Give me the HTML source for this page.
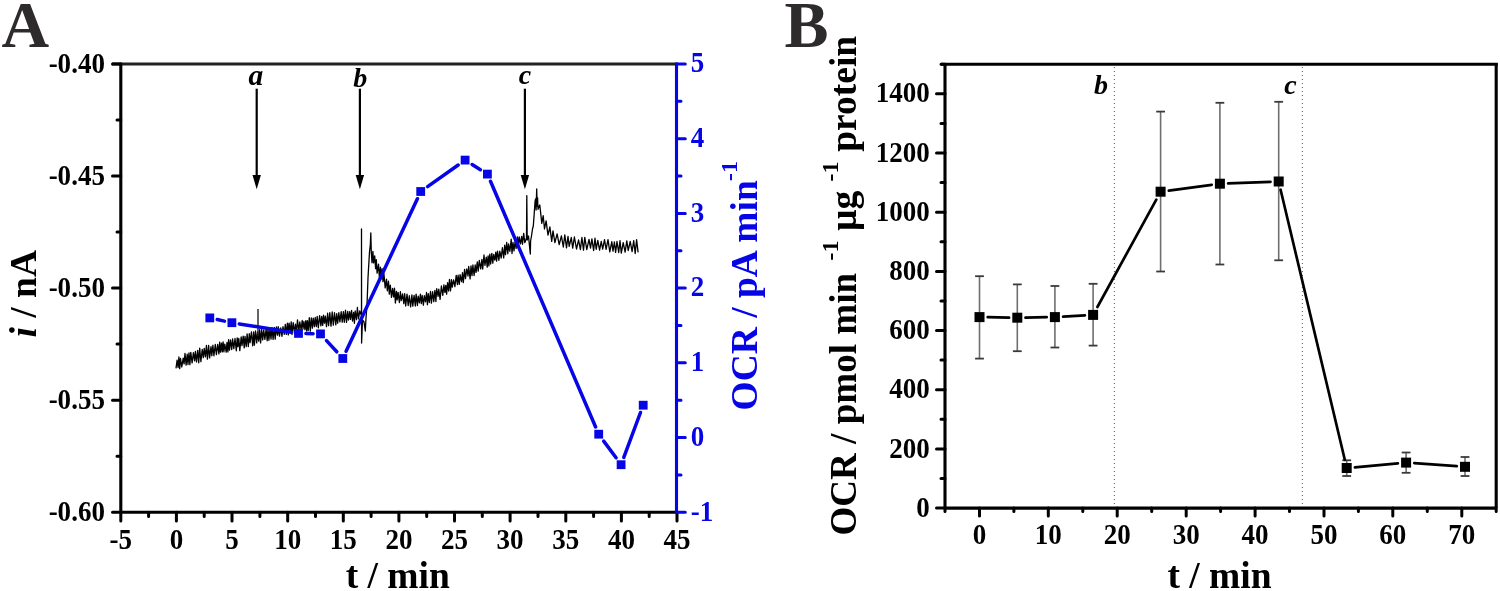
<!DOCTYPE html>
<html><head><meta charset="utf-8"><style>
html,body{margin:0;padding:0;background:#fff;}
body{width:1500px;height:591px;overflow:hidden;font-family:"Liberation Serif",serif;}
svg{display:block;filter:blur(0.3px);}
</style></head><body>
<svg width="1500" height="591" viewBox="0 0 1500 591">
<rect width="1500" height="591" fill="#fff"/>
<polyline fill="none" stroke="#000" stroke-width="1.3" stroke-linejoin="round" points="176.0,368.3 177.1,360.1 178.1,367.5 178.9,357.0 179.7,368.7 180.5,358.3 181.8,367.0 183.2,358.2 184.1,363.9 185.0,353.3 186.1,365.2 187.2,354.2 188.0,364.5 189.0,352.8 189.9,364.7 190.8,352.3 192.1,362.8 193.4,352.6 194.6,360.8 195.4,351.3 196.5,362.0 197.7,350.3 198.7,362.8 199.7,348.1 200.9,361.7 202.2,349.4 203.3,357.7 204.2,348.4 205.4,356.8 206.4,345.5 207.4,359.1 208.6,345.4 209.6,357.9 211.0,346.6 211.8,355.8 212.9,345.2 213.9,355.8 215.3,344.5 216.4,354.6 217.7,344.4 218.9,353.9 219.7,342.1 220.5,352.2 221.5,343.2 222.3,351.9 223.1,341.8 223.9,351.8 224.8,344.2 226.2,352.1 227.0,342.3 227.9,351.9 228.6,339.7 229.5,350.2 230.5,339.9 231.7,349.5 232.6,339.0 233.8,348.7 235.0,338.5 236.3,350.8 237.2,337.9 237.9,346.6 238.8,338.4 239.8,350.7 241.2,336.8 242.0,345.7 243.2,336.1 244.2,347.9 245.0,336.4 246.2,346.7 247.1,333.9 248.3,346.5 249.3,333.7 250.1,342.7 251.4,332.0 252.7,345.8 253.6,332.0 254.4,345.2 255.5,331.0 256.7,342.9 257.6,331.8 258.7,341.1 259.6,329.7 260.6,342.9 261.6,329.5 262.7,339.9 263.7,329.9 264.9,339.4 266.1,329.0 267.2,340.8 268.0,328.3 268.9,340.3 270.0,328.9 271.0,339.2 272.0,327.4 273.1,339.4 274.3,327.5 275.2,339.1 276.4,327.0 277.5,335.2 278.2,326.7 279.5,336.2 280.7,327.9 282.0,336.3 283.0,326.6 284.3,334.3 285.3,324.4 286.3,334.4 287.4,323.1 288.3,334.9 289.1,323.1 290.4,332.2 291.2,321.8 292.0,334.5 293.2,322.6 294.6,333.8 295.4,324.1 296.4,332.4 297.5,319.8 298.8,331.6 299.8,321.9 301.1,329.8 302.2,320.5 303.0,328.9 303.9,321.5 304.9,329.7 305.8,320.6 306.6,331.0 307.4,320.6 308.2,330.6 309.3,317.7 310.3,331.1 311.3,318.0 312.4,328.1 313.2,318.1 314.4,326.7 315.2,317.5 316.3,326.5 317.2,316.3 318.3,327.8 319.6,315.7 320.9,325.8 321.7,316.3 322.7,325.4 323.5,315.2 324.5,323.2 325.4,316.2 326.5,326.6 327.6,313.2 328.6,325.6 329.8,312.6 331.0,326.1 332.2,312.0 333.3,325.1 334.5,312.7 335.8,324.9 336.7,313.6 337.7,323.2 338.8,312.7 339.9,321.8 341.2,311.6 342.2,322.1 343.4,311.6 344.3,322.3 345.5,310.2 346.5,322.4 347.7,311.3 348.5,320.0 349.7,311.7 350.5,319.4 351.6,310.5 352.5,321.0 353.6,312.5 354.4,323.3 355.2,311.0 356.5,319.6 357.4,307.5 358.5,318.8 359.8,310.9 361.5,316.0 361.5,229.0 361.6,343.0 362.5,320.0 364.0,322.0 365.3,331.0 366.0,318.0 367.0,305.0 368.0,278.0 369.5,252.0 370.3,245.0 370.8,233.0 371.3,252.0 372.0,262.8 372.9,251.4 373.6,262.9 374.7,255.8 375.6,268.7 376.3,259.7 377.1,273.2 378.5,264.1 379.4,277.7 380.4,267.2 381.2,278.9 382.1,268.7 383.0,281.7 383.9,273.6 385.2,287.9 386.5,279.1 387.3,290.8 388.5,281.2 389.3,294.1 390.3,285.1 391.5,297.4 392.6,288.3 393.6,296.9 394.5,288.2 395.4,303.0 396.4,291.3 397.2,299.9 398.1,292.3 399.4,302.5 400.4,291.7 401.3,300.7 402.6,293.8 403.8,303.6 404.7,293.7 405.7,306.0 407.0,294.1 408.2,305.5 409.3,295.7 410.6,306.9 411.9,294.9 412.8,306.1 414.1,295.4 415.3,306.0 416.1,294.1 417.4,305.5 418.2,296.2 419.4,302.8 420.4,294.1 421.3,303.7 422.2,295.5 423.4,305.2 424.3,295.7 425.5,301.8 426.5,292.5 427.4,304.8 428.3,293.7 429.3,302.5 430.5,291.5 431.4,303.2 432.6,291.6 433.8,301.6 434.9,290.4 435.9,301.5 436.7,288.7 438.1,296.3 438.8,289.2 440.1,299.3 441.4,286.0 442.8,295.3 443.9,284.9 444.9,292.3 445.8,285.4 446.6,294.1 447.6,282.6 448.6,291.0 449.5,279.4 450.5,290.9 451.5,279.7 452.3,287.1 453.6,279.8 454.9,286.6 456.2,275.4 457.4,284.6 458.1,275.2 459.3,284.3 460.1,274.6 461.5,281.6 462.5,272.7 463.3,282.7 464.6,269.4 465.5,278.6 466.8,268.9 468.0,276.0 468.7,266.5 470.1,278.9 471.0,265.8 472.0,275.7 472.9,265.0 474.1,275.5 475.2,264.9 476.1,272.4 477.3,261.8 478.2,271.2 479.3,260.5 480.7,268.9 481.9,259.4 482.7,269.0 484.0,255.0 484.9,265.3 486.3,257.2 487.2,267.1 488.1,255.8 488.9,265.9 489.8,254.1 490.7,264.0 491.8,253.3 492.8,263.2 493.7,254.5 494.8,260.2 495.8,252.1 496.6,261.2 497.5,251.2 498.9,260.3 499.8,251.2 501.2,258.0 502.4,247.6 503.7,257.9 504.7,245.1 505.5,254.6 506.7,242.5 507.8,253.8 508.6,244.0 509.9,251.3 511.2,239.2 512.0,253.5 513.0,242.4 514.0,250.9 515.3,240.0 516.1,248.4 517.4,236.9 518.4,246.0 519.2,236.9 520.5,243.9 521.7,236.4 522.5,244.3 523.7,233.3 524.8,242.7 526.5,238.0 526.8,195.6 527.2,240.0 528.5,236.0 529.5,246.0 530.3,254.0 530.6,241.0 531.5,236.0 532.5,229.0 533.3,226.0 534.2,214.0 535.0,202.0 535.6,199.0 536.1,210.0 536.7,189.0 537.1,206.0 537.6,198.0 538.0,209.3 539.8,205.0 541.8,223.4 543.2,215.7 544.5,229.0 546.1,220.8 548.0,235.1 549.9,227.0 551.7,241.4 553.0,230.8 554.9,242.7 557.1,233.8 559.2,244.7 561.4,235.9 563.3,247.0 564.8,234.8 566.5,247.8 568.0,236.3 569.2,246.3 571.3,237.5 572.7,248.1 574.4,237.0 576.5,249.0 578.6,240.0 580.4,249.6 581.9,237.5 583.5,250.1 584.8,237.4 586.8,249.7 589.0,239.3 590.5,248.1 591.9,238.9 593.6,250.5 595.0,238.2 596.2,249.3 597.8,240.4 599.6,250.2 601.2,241.5 602.7,249.1 604.5,239.7 606.1,249.4 608.0,239.7 609.8,251.8 611.8,241.7 613.0,251.1 614.4,242.0 615.6,252.4 617.0,241.5 618.7,252.5 620.0,240.7 621.3,253.1 623.2,242.7 625.1,252.2 626.8,240.8 628.2,250.5 630.2,241.4 632.1,251.7 633.7,240.7 635.2,253.5 636.6,239.6 638.1,252.3"/>
<line x1="258" y1="309" x2="258" y2="336" stroke="#222" stroke-width="1.4"/>
<line x1="256.7" y1="88.7" x2="256.7" y2="178" stroke="#000" stroke-width="2.2"/>
<polygon points="252.5,175 260.9,175 256.7,189.3" fill="#000"/>
<line x1="359.9" y1="88.7" x2="359.9" y2="178" stroke="#000" stroke-width="2.2"/>
<polygon points="355.7,175 364.1,175 359.9,189.3" fill="#000"/>
<line x1="524.9" y1="88.7" x2="524.9" y2="178" stroke="#000" stroke-width="2.2"/>
<polygon points="520.7,175 529.1,175 524.9,189.3" fill="#000"/>
<line x1="217.2" y1="319.5" x2="224.5" y2="321.1" stroke="#0505e6" stroke-width="3.5" stroke-linecap="round"/>
<line x1="239.3" y1="323.9" x2="291.1" y2="332.2" stroke="#0505e6" stroke-width="3.5" stroke-linecap="round"/>
<line x1="305.9" y1="333.6" x2="313.1" y2="333.7" stroke="#0505e6" stroke-width="3.5" stroke-linecap="round"/>
<line x1="326.5" y1="340.6" x2="336.8" y2="351.8" stroke="#0505e6" stroke-width="3.5" stroke-linecap="round"/>
<line x1="346.1" y1="351.3" x2="417.4" y2="198.7" stroke="#0505e6" stroke-width="3.5" stroke-linecap="round"/>
<line x1="427.6" y1="186.6" x2="458.2" y2="165.0" stroke="#0505e6" stroke-width="3.5" stroke-linecap="round"/>
<line x1="472.1" y1="164.5" x2="480.4" y2="169.7" stroke="#0505e6" stroke-width="3.5" stroke-linecap="round"/>
<line x1="490.5" y1="181.3" x2="595.6" y2="427.0" stroke="#0505e6" stroke-width="3.5" stroke-linecap="round"/>
<line x1="603.7" y1="441.1" x2="616.1" y2="457.8" stroke="#0505e6" stroke-width="3.5" stroke-linecap="round"/>
<line x1="623.8" y1="457.4" x2="640.5" y2="412.5" stroke="#0505e6" stroke-width="3.5" stroke-linecap="round"/>
<rect x="205.4" y="313.5" width="8.8" height="8.8" fill="#0505e6"/>
<rect x="227.5" y="318.3" width="8.8" height="8.8" fill="#0505e6"/>
<rect x="294.1" y="329.0" width="8.8" height="8.8" fill="#0505e6"/>
<rect x="316.1" y="329.5" width="8.8" height="8.8" fill="#0505e6"/>
<rect x="338.4" y="354.1" width="8.8" height="8.8" fill="#0505e6"/>
<rect x="416.3" y="187.1" width="8.8" height="8.8" fill="#0505e6"/>
<rect x="460.7" y="155.7" width="8.8" height="8.8" fill="#0505e6"/>
<rect x="483.0" y="169.7" width="8.8" height="8.8" fill="#0505e6"/>
<rect x="594.3" y="429.8" width="8.8" height="8.8" fill="#0505e6"/>
<rect x="616.7" y="460.3" width="8.8" height="8.8" fill="#0505e6"/>
<rect x="638.8" y="400.8" width="8.8" height="8.8" fill="#0505e6"/>
<line x1="112" y1="64.0" x2="676.5" y2="64.0" stroke="#222" stroke-width="3"/>
<line x1="120.8" y1="62.8" x2="120.8" y2="512.2" stroke="#000" stroke-width="3.1"/>
<line x1="120.8" y1="512.2" x2="676.5" y2="512.2" stroke="#000" stroke-width="3.1"/>
<text transform="translate(104.9,73.0) scale(0.965,1.04)" font-family="Liberation Serif" font-weight="bold" font-size="28" text-anchor="end">-0.40</text>
<text transform="translate(104.9,185.1) scale(0.965,1.04)" font-family="Liberation Serif" font-weight="bold" font-size="28" text-anchor="end">-0.45</text>
<text transform="translate(104.9,297.1) scale(0.965,1.04)" font-family="Liberation Serif" font-weight="bold" font-size="28" text-anchor="end">-0.50</text>
<text transform="translate(104.9,409.2) scale(0.965,1.04)" font-family="Liberation Serif" font-weight="bold" font-size="28" text-anchor="end">-0.55</text>
<text transform="translate(104.9,521.2) scale(0.965,1.04)" font-family="Liberation Serif" font-weight="bold" font-size="28" text-anchor="end">-0.60</text>
<text transform="translate(120.8,548.9) scale(0.965,1.04)" font-family="Liberation Serif" font-weight="bold" font-size="28" text-anchor="middle">-5</text>
<text transform="translate(176.4,548.9) scale(0.965,1.04)" font-family="Liberation Serif" font-weight="bold" font-size="28" text-anchor="middle">0</text>
<text transform="translate(232.0,548.9) scale(0.965,1.04)" font-family="Liberation Serif" font-weight="bold" font-size="28" text-anchor="middle">5</text>
<text transform="translate(287.7,548.9) scale(0.965,1.04)" font-family="Liberation Serif" font-weight="bold" font-size="28" text-anchor="middle">10</text>
<text transform="translate(343.3,548.9) scale(0.965,1.04)" font-family="Liberation Serif" font-weight="bold" font-size="28" text-anchor="middle">15</text>
<text transform="translate(398.9,548.9) scale(0.965,1.04)" font-family="Liberation Serif" font-weight="bold" font-size="28" text-anchor="middle">20</text>
<text transform="translate(454.5,548.9) scale(0.965,1.04)" font-family="Liberation Serif" font-weight="bold" font-size="28" text-anchor="middle">25</text>
<text transform="translate(510.1,548.9) scale(0.965,1.04)" font-family="Liberation Serif" font-weight="bold" font-size="28" text-anchor="middle">30</text>
<text transform="translate(565.8,548.9) scale(0.965,1.04)" font-family="Liberation Serif" font-weight="bold" font-size="28" text-anchor="middle">35</text>
<text transform="translate(621.4,548.9) scale(0.965,1.04)" font-family="Liberation Serif" font-weight="bold" font-size="28" text-anchor="middle">40</text>
<text transform="translate(677.0,548.9) scale(0.965,1.04)" font-family="Liberation Serif" font-weight="bold" font-size="28" text-anchor="middle">45</text>
<path d="M112.5 64.0H120.8M117 120.0H120.8M112.5 176.1H120.8M117 232.1H120.8M112.5 288.1H120.8M117 344.1H120.8M112.5 400.2H120.8M117 456.2H120.8M112.5 512.2H120.8M120.8 512.2V521M148.6 512.2V516.5M176.4 512.2V521M204.2 512.2V516.5M232.0 512.2V521M259.9 512.2V516.5M287.7 512.2V521M315.5 512.2V516.5M343.3 512.2V521M371.1 512.2V516.5M398.9 512.2V521M426.7 512.2V516.5M454.5 512.2V521M482.3 512.2V516.5M510.1 512.2V521M538.0 512.2V516.5M565.8 512.2V521M593.6 512.2V516.5M621.4 512.2V521M649.2 512.2V516.5M677.0 512.2V521" stroke="#000" stroke-width="3" stroke-linecap="round" fill="none"/>
<line x1="676.5" y1="62.6" x2="676.5" y2="513.7" stroke="#0505e6" stroke-width="3.1"/>
<text transform="translate(690.8,72.3) scale(0.965,1.04)" font-family="Liberation Serif" font-weight="bold" font-size="28" fill="#0505e6">5</text>
<text transform="translate(690.8,147.0) scale(0.965,1.04)" font-family="Liberation Serif" font-weight="bold" font-size="28" fill="#0505e6">4</text>
<text transform="translate(690.8,221.7) scale(0.965,1.04)" font-family="Liberation Serif" font-weight="bold" font-size="28" fill="#0505e6">3</text>
<text transform="translate(690.8,296.4) scale(0.965,1.04)" font-family="Liberation Serif" font-weight="bold" font-size="28" fill="#0505e6">2</text>
<text transform="translate(690.8,371.1) scale(0.965,1.04)" font-family="Liberation Serif" font-weight="bold" font-size="28" fill="#0505e6">1</text>
<text transform="translate(690.8,445.8) scale(0.965,1.04)" font-family="Liberation Serif" font-weight="bold" font-size="28" fill="#0505e6">0</text>
<text transform="translate(690.8,520.5) scale(0.965,1.04)" font-family="Liberation Serif" font-weight="bold" font-size="28" fill="#0505e6">-1</text>
<path d="M676.5 64.0H685.3M676.5 101.3H681M676.5 138.7H685.3M676.5 176.0H681M676.5 213.4H685.3M676.5 250.8H681M676.5 288.1H685.3M676.5 325.5H681M676.5 362.8H685.3M676.5 400.2H681M676.5 437.5H685.3M676.5 474.9H681M676.5 512.2H685.3" stroke="#0505e6" stroke-width="3" stroke-linecap="round" fill="none"/>
<text x="397.8" y="588" font-family="Liberation Serif" font-weight="bold" font-size="37.5" text-anchor="middle">t / min</text>
<text transform="translate(35.6,337.5) rotate(-90)" font-family="Liberation Serif" font-weight="bold" font-size="37.5"><tspan font-style="italic">i</tspan> / nA</text>
<text transform="translate(756.6,410.5) rotate(-90)" font-family="Liberation Serif" font-weight="bold" font-size="37.5" fill="#0505e6">OCR / pA min</text>
<text transform="translate(737,181) rotate(-90)" font-family="Liberation Serif" font-weight="bold" font-size="24" fill="#0505e6">-1</text>
<text x="1.5" y="46.7" font-family="Liberation Serif" font-weight="bold" font-size="66" fill="#2e2b2c">A</text>
<line x1="1114.4" y1="67" x2="1114.4" y2="506" stroke="#666" stroke-width="1.1" stroke-dasharray="1.1 2.9"/>
<line x1="1302.4" y1="67" x2="1302.4" y2="506" stroke="#666" stroke-width="1.1" stroke-dasharray="1.1 2.9"/>
<line x1="979.5" y1="276.2" x2="979.5" y2="358.6" stroke="#6e6e6e" stroke-width="1.6"/>
<line x1="975.1" y1="276.2" x2="983.9" y2="276.2" stroke="#3a3a3a" stroke-width="1.8"/>
<line x1="975.1" y1="358.6" x2="983.9" y2="358.6" stroke="#3a3a3a" stroke-width="1.8"/>
<line x1="1017.3" y1="284.4" x2="1017.3" y2="351.2" stroke="#6e6e6e" stroke-width="1.6"/>
<line x1="1012.9" y1="284.4" x2="1021.7" y2="284.4" stroke="#3a3a3a" stroke-width="1.8"/>
<line x1="1012.9" y1="351.2" x2="1021.7" y2="351.2" stroke="#3a3a3a" stroke-width="1.8"/>
<line x1="1054.9" y1="286.0" x2="1054.9" y2="347.5" stroke="#6e6e6e" stroke-width="1.6"/>
<line x1="1050.5" y1="286.0" x2="1059.3" y2="286.0" stroke="#3a3a3a" stroke-width="1.8"/>
<line x1="1050.5" y1="347.5" x2="1059.3" y2="347.5" stroke="#3a3a3a" stroke-width="1.8"/>
<line x1="1093.1" y1="283.8" x2="1093.1" y2="345.6" stroke="#6e6e6e" stroke-width="1.6"/>
<line x1="1088.7" y1="283.8" x2="1097.5" y2="283.8" stroke="#3a3a3a" stroke-width="1.8"/>
<line x1="1088.7" y1="345.6" x2="1097.5" y2="345.6" stroke="#3a3a3a" stroke-width="1.8"/>
<line x1="1160.6" y1="111.6" x2="1160.6" y2="271.5" stroke="#6e6e6e" stroke-width="1.6"/>
<line x1="1156.2" y1="111.6" x2="1165.0" y2="111.6" stroke="#3a3a3a" stroke-width="1.8"/>
<line x1="1156.2" y1="271.5" x2="1165.0" y2="271.5" stroke="#3a3a3a" stroke-width="1.8"/>
<line x1="1219.9" y1="102.8" x2="1219.9" y2="264.5" stroke="#6e6e6e" stroke-width="1.6"/>
<line x1="1215.5" y1="102.8" x2="1224.3" y2="102.8" stroke="#3a3a3a" stroke-width="1.8"/>
<line x1="1215.5" y1="264.5" x2="1224.3" y2="264.5" stroke="#3a3a3a" stroke-width="1.8"/>
<line x1="1278.7" y1="101.8" x2="1278.7" y2="260.3" stroke="#6e6e6e" stroke-width="1.6"/>
<line x1="1274.3" y1="101.8" x2="1283.1" y2="101.8" stroke="#3a3a3a" stroke-width="1.8"/>
<line x1="1274.3" y1="260.3" x2="1283.1" y2="260.3" stroke="#3a3a3a" stroke-width="1.8"/>
<line x1="1346.7" y1="460.3" x2="1346.7" y2="476.0" stroke="#6e6e6e" stroke-width="1.6"/>
<line x1="1342.3" y1="460.3" x2="1351.1" y2="460.3" stroke="#3a3a3a" stroke-width="1.8"/>
<line x1="1342.3" y1="476.0" x2="1351.1" y2="476.0" stroke="#3a3a3a" stroke-width="1.8"/>
<line x1="1406.1" y1="452.5" x2="1406.1" y2="472.8" stroke="#6e6e6e" stroke-width="1.6"/>
<line x1="1401.7" y1="452.5" x2="1410.5" y2="452.5" stroke="#3a3a3a" stroke-width="1.8"/>
<line x1="1401.7" y1="472.8" x2="1410.5" y2="472.8" stroke="#3a3a3a" stroke-width="1.8"/>
<line x1="1465.0" y1="457.0" x2="1465.0" y2="476.0" stroke="#6e6e6e" stroke-width="1.6"/>
<line x1="1460.6" y1="457.0" x2="1469.4" y2="457.0" stroke="#3a3a3a" stroke-width="1.8"/>
<line x1="1460.6" y1="476.0" x2="1469.4" y2="476.0" stroke="#3a3a3a" stroke-width="1.8"/>
<line x1="987.7" y1="317.2" x2="1009.1" y2="317.6" stroke="#000" stroke-width="2.7" stroke-linecap="round"/>
<line x1="1025.5" y1="317.6" x2="1046.7" y2="317.2" stroke="#000" stroke-width="2.7" stroke-linecap="round"/>
<line x1="1063.1" y1="316.6" x2="1084.9" y2="315.4" stroke="#000" stroke-width="2.7" stroke-linecap="round"/>
<line x1="1097.4" y1="307.0" x2="1156.3" y2="199.6" stroke="#000" stroke-width="2.7" stroke-linecap="round"/>
<line x1="1168.8" y1="190.6" x2="1211.7" y2="184.8" stroke="#000" stroke-width="2.7" stroke-linecap="round"/>
<line x1="1228.1" y1="183.4" x2="1270.5" y2="181.8" stroke="#000" stroke-width="2.7" stroke-linecap="round"/>
<line x1="1280.6" y1="189.7" x2="1344.8" y2="459.8" stroke="#000" stroke-width="2.7" stroke-linecap="round"/>
<line x1="1354.9" y1="467.3" x2="1397.9" y2="463.3" stroke="#000" stroke-width="2.7" stroke-linecap="round"/>
<line x1="1414.3" y1="463.2" x2="1456.8" y2="466.2" stroke="#000" stroke-width="2.7" stroke-linecap="round"/>
<rect x="974.5" y="312.1" width="10" height="10" fill="#000"/>
<rect x="1012.3" y="312.7" width="10" height="10" fill="#000"/>
<rect x="1049.9" y="312.1" width="10" height="10" fill="#000"/>
<rect x="1088.1" y="309.9" width="10" height="10" fill="#000"/>
<rect x="1155.6" y="186.7" width="10" height="10" fill="#000"/>
<rect x="1214.9" y="178.7" width="10" height="10" fill="#000"/>
<rect x="1273.7" y="176.5" width="10" height="10" fill="#000"/>
<rect x="1341.7" y="463.0" width="10" height="10" fill="#000"/>
<rect x="1401.1" y="457.6" width="10" height="10" fill="#000"/>
<rect x="1460.0" y="461.8" width="10" height="10" fill="#000"/>
<line x1="941" y1="64.2" x2="1497.7" y2="64.2" stroke="#000" stroke-width="3"/>
<line x1="945.0" y1="63.0" x2="945.0" y2="508.1" stroke="#000" stroke-width="3.1"/>
<line x1="1496.2" y1="63.0" x2="1496.2" y2="508.1" stroke="#000" stroke-width="3.1"/>
<line x1="945.0" y1="508.1" x2="1496.2" y2="508.1" stroke="#000" stroke-width="3.1"/>
<text transform="translate(929.8,516.7) scale(0.965,1.04)" font-family="Liberation Serif" font-weight="bold" font-size="28" text-anchor="end">0</text>
<text transform="translate(929.8,457.5) scale(0.965,1.04)" font-family="Liberation Serif" font-weight="bold" font-size="28" text-anchor="end">200</text>
<text transform="translate(929.8,398.3) scale(0.965,1.04)" font-family="Liberation Serif" font-weight="bold" font-size="28" text-anchor="end">400</text>
<text transform="translate(929.8,339.1) scale(0.965,1.04)" font-family="Liberation Serif" font-weight="bold" font-size="28" text-anchor="end">600</text>
<text transform="translate(929.8,280.0) scale(0.965,1.04)" font-family="Liberation Serif" font-weight="bold" font-size="28" text-anchor="end">800</text>
<text transform="translate(929.8,220.8) scale(0.965,1.04)" font-family="Liberation Serif" font-weight="bold" font-size="28" text-anchor="end">1000</text>
<text transform="translate(929.8,161.6) scale(0.965,1.04)" font-family="Liberation Serif" font-weight="bold" font-size="28" text-anchor="end">1200</text>
<text transform="translate(929.8,102.4) scale(0.965,1.04)" font-family="Liberation Serif" font-weight="bold" font-size="28" text-anchor="end">1400</text>
<text transform="translate(979.5,544.1) scale(0.965,1.04)" font-family="Liberation Serif" font-weight="bold" font-size="28" text-anchor="middle">0</text>
<text transform="translate(1048.3,544.1) scale(0.965,1.04)" font-family="Liberation Serif" font-weight="bold" font-size="28" text-anchor="middle">10</text>
<text transform="translate(1117.2,544.1) scale(0.965,1.04)" font-family="Liberation Serif" font-weight="bold" font-size="28" text-anchor="middle">20</text>
<text transform="translate(1186.2,544.1) scale(0.965,1.04)" font-family="Liberation Serif" font-weight="bold" font-size="28" text-anchor="middle">30</text>
<text transform="translate(1255.1,544.1) scale(0.965,1.04)" font-family="Liberation Serif" font-weight="bold" font-size="28" text-anchor="middle">40</text>
<text transform="translate(1324.0,544.1) scale(0.965,1.04)" font-family="Liberation Serif" font-weight="bold" font-size="28" text-anchor="middle">50</text>
<text transform="translate(1392.8,544.1) scale(0.965,1.04)" font-family="Liberation Serif" font-weight="bold" font-size="28" text-anchor="middle">60</text>
<text transform="translate(1461.8,544.1) scale(0.965,1.04)" font-family="Liberation Serif" font-weight="bold" font-size="28" text-anchor="middle">70</text>
<path d="M936.5 508.1H945.0M941 478.5H945.0M936.5 448.9H945.0M941 419.3H945.0M936.5 389.7H945.0M941 360.1H945.0M936.5 330.5H945.0M941 300.9H945.0M936.5 271.4H945.0M941 241.8H945.0M936.5 212.2H945.0M941 182.6H945.0M936.5 153.0H945.0M941 123.4H945.0M936.5 93.8H945.0M941 64.2H945.0M945.0 508.1V511.5M979.5 508.1V516M1013.9 508.1V511.5M1048.3 508.1V516M1082.8 508.1V511.5M1117.2 508.1V516M1151.7 508.1V511.5M1186.2 508.1V516M1220.6 508.1V511.5M1255.1 508.1V516M1289.5 508.1V511.5M1324.0 508.1V516M1358.4 508.1V511.5M1392.8 508.1V516M1427.3 508.1V511.5M1461.8 508.1V516M1496.2 508.1V511.5" stroke="#000" stroke-width="3" stroke-linecap="round" fill="none"/>
<text x="1094" y="93.6" font-family="Liberation Serif" font-weight="bold" font-size="28" font-style="italic">b</text>
<text x="1284.3" y="94" font-family="Liberation Serif" font-weight="bold" font-size="28" font-style="italic">c</text>
<text x="1219.5" y="588" font-family="Liberation Serif" font-weight="bold" font-size="37.5" text-anchor="middle">t / min</text>
<text transform="translate(856.2,535.6) rotate(-90)" font-family="Liberation Serif" font-weight="bold" font-size="37.1">OCR / pmol min</text>
<text transform="translate(837.8,260.5) rotate(-90)" font-family="Liberation Serif" font-weight="bold" font-size="24">-1</text>
<text transform="translate(856.2,231) rotate(-90)" font-family="Liberation Serif" font-weight="bold" font-size="37.5">µg</text>
<text transform="translate(837.8,181.5) rotate(-90)" font-family="Liberation Serif" font-weight="bold" font-size="24">-1</text>
<text transform="translate(856.2,151.8) rotate(-90)" font-family="Liberation Serif" font-weight="bold" font-size="37.5">protein</text>
<text x="784.5" y="46.7" font-family="Liberation Serif" font-weight="bold" font-size="66" fill="#2e2b2c">B</text>
<text x="248.6" y="84.5" font-family="Liberation Serif" font-weight="bold" font-size="29.5" font-style="italic">a</text>
<text x="353.3" y="87.1" font-family="Liberation Serif" font-weight="bold" font-size="28" font-style="italic">b</text>
<text x="518.8" y="83.8" font-family="Liberation Serif" font-weight="bold" font-size="28" font-style="italic">c</text>
</svg>
</body></html>
